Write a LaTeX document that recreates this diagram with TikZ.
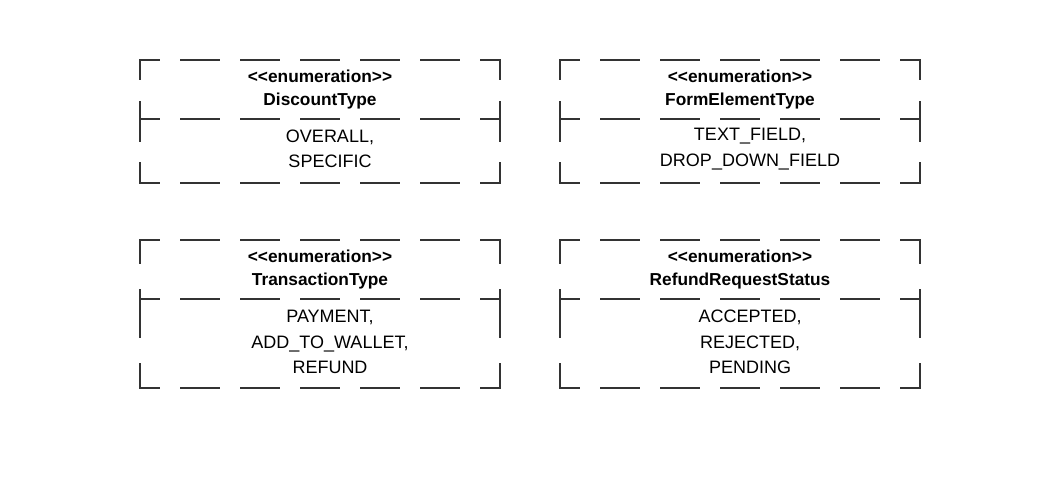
\documentclass[tikz,border=0pt]{standalone}
\usepackage{fontspec}
\setmainfont{Liberation Sans}
\usepackage{tikz}
\usetikzlibrary{positioning}
\definecolor{linecol}{RGB}{51,51,51}

\begin{document}
\begin{tikzpicture}[x=1pt,y=-1pt]

    \useasboundingbox (0,0) rectangle (1051,478);

    \tikzset{
    % box of an enumeration, its sides are drawn one by one
    enumbox/.style={rectangle, minimum width=360pt, inner sep=0},
    % dashes are fitted to the length of each side
    hside/.style={draw=linecol, line width=2pt, line cap=rect, dash pattern=on 38pt off 22pt, dash phase=19pt},
    vshort/.style={draw=linecol, line width=2pt, line cap=rect, dash pattern=on 39pt off 22.5pt, dash phase=19.5pt},
    vtall/.style={draw=linecol, line width=2pt, line cap=rect, dash pattern=on 47.33pt off 26.67pt, dash phase=23.67pt},
    head/.style={align=center, inner sep=0, font=\bfseries\fontsize{17.3}{22.5}\selectfont},
    body/.style={align=center, inner sep=0, font=\fontsize{18}{25.5}\selectfont}
    }

    \node (disc) at (320,121.5) [enumbox, minimum height=123pt] {};
    \node (form) at (740,121.5) [enumbox, minimum height=123pt] {};
    \node (trans) at (320,314) [enumbox, minimum height=148pt] {};
    \node (refund) at (740,314) [enumbox, minimum height=148pt] {};

    % DiscountType
    \draw[hside] (disc.north west) -- (disc.north east);
    \draw[hside] ([yshift=-59pt]disc.north west) -- ([yshift=-59pt]disc.north east);
    \draw[hside] (disc.south west) -- (disc.south east);
    \draw[vshort] (disc.north west) -- (disc.south west);
    \draw[vshort] (disc.north east) -- (disc.south east);

    % FormElementType
    \draw[hside] (form.north west) -- (form.north east);
    \draw[hside] ([yshift=-59pt]form.north west) -- ([yshift=-59pt]form.north east);
    \draw[hside] (form.south west) -- (form.south east);
    \draw[vshort] (form.north west) -- (form.south west);
    \draw[vshort] (form.north east) -- (form.south east);

    % TransactionType
    \draw[hside] (trans.north west) -- (trans.north east);
    \draw[hside] ([yshift=-59pt]trans.north west) -- ([yshift=-59pt]trans.north east);
    \draw[hside] (trans.south west) -- (trans.south east);
    \draw[vtall] (trans.north west) -- (trans.south west);
    \draw[vtall] (trans.north east) -- (trans.south east);

    % RefundRequestStatus
    \draw[hside] (refund.north west) -- (refund.north east);
    \draw[hside] ([yshift=-59pt]refund.north west) -- ([yshift=-59pt]refund.north east);
    \draw[hside] (refund.south west) -- (refund.south east);
    \draw[vtall] (refund.north west) -- (refund.south west);
    \draw[vtall] (refund.north east) -- (refund.south east);

    \node (dischead) at (320,89.5) [head] {<\kern0pt<enumeration>\kern0pt>\\DiscountType};
    \node (formhead) at (740,89.5) [head] {<\kern0pt<enumeration>\kern0pt>\\FormElementType};
    \node (transhead) at (320,269.5) [head] {<\kern0pt<enumeration>\kern0pt>\\TransactionType};
    \node (refundhead) at (740,269.5) [head] {<\kern0pt<enumeration>\kern0pt>\\RefundRequestStatus};

    % the values sit a little right of the middle
    \node (discbody) at (330,149) [body] {OVERALL,\\SPECIFIC};
    \node (formbody) at (750,149) [body] {TEXT\_FIELD,\\DROP\_DOWN\_FIELD};
    \node (transbody) at (330,342) [body] {PAYMENT,\\ADD\_TO\_WALLET,\\REFUND};
    \node (refundbody) at (750,342) [body] {ACCEPTED,\\REJECTED,\\PENDING};

\end{tikzpicture}
\end{document}
